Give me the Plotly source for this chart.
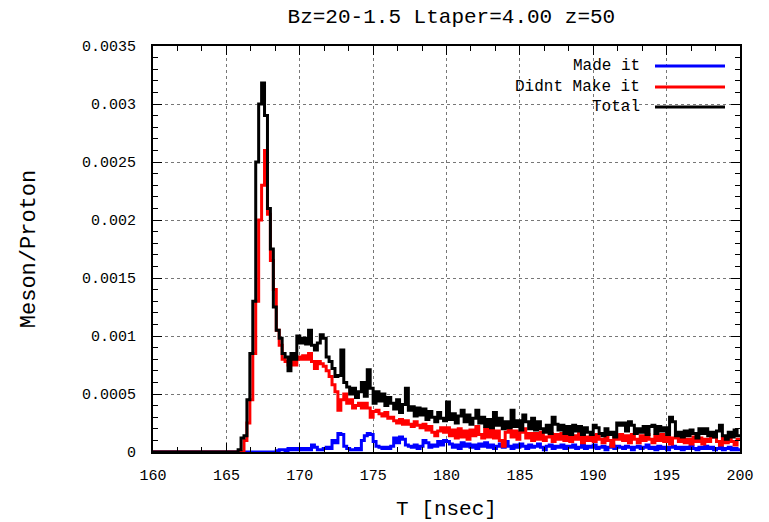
import plotly.graph_objects as go

# ---- data (0.2 ns bins starting at 160 ns) ----
bin_start = 160.0
bin_width = 0.2

made_it = [
    0, 0, 0, 0, 0, 0, 0, 0, 0, 0,
    0, 0, 0, 0, 0, 0, 0, 0, 0, 0,
    0, 0, 0, 0, 0, 0, 0, 0, 0, 0,
    0, 0, 0, 0, 0, 0, 0, 0, 0, 0,
    0, 0, 0.00001, 0.00002, 0.00002, 0.00001, 0.00003, 0.00002, 0.00003, 0.00002,
    0.00003, 0.00002, 0.00003, 0.00002, 0.00006, 0.00004, 0.00002, 0.00002, 0.00003, 0.00004,
    0.00003, 0.0001, 0.00008, 0.00016, 0.00015, 0.00005, 0.00003, 0.00002, 0.00002, 0.00003,
    0.00002, 0.0001, 0.00014, 0.00016, 0.00015, 0.00009, 0.00005, 0.00004, 0.00003, 0.00004,
    0.00003, 0.00005, 0.00012, 0.00008, 0.00013, 0.00011, 0.00006, 0.00005, 0.00004, 0.00006,
    0.00003, 0.00005, 0.0001, 0.00008, 0.00004, 0.00006, 0.00005, 0.00009, 0.00006, 0.0001,
    0.00009, 0.00007, 0.00004, 0.00006, 0.00003, 0.00008, 0.00005, 0.00007, 0.00004, 0.00006,
    0.00003, 0.00007, 0.00005, 0.00008, 0.00004, 0.00006, 0.00003, 0.00005, 0.00007, 0.00004,
    0.00009, 0.00005, 0.00003, 0.00006, 0.00004, 0.00007, 0.00005, 0.00003, 0.00006, 0.00004,
    0.00005, 0.00007, 0.00004, 0.00002, 0.00005, 0.00006, 0.00003, 0.00005, 0.00004, 0.00006,
    0.00003, 0.00005, 0.00004, 0.00006, 0.00003, 0.00004, 0.00006, 0.00003, 0.00005, 0.00004,
    0.00006, 0.00003, 0.00004, 0.00005, 0.00002, 0.00004, 0.00006, 0.00003, 0.00005, 0.00004,
    0.00003, 0.00005, 0.00004, 0.00002, 0.00004, 0.00005, 0.00003, 0.00004, 0.00006, 0.00003,
    0.00004, 0.00002, 0.00005, 0.00003, 0.00004, 0.00002, 0.00004, 0.00005, 0.00003, 0.00004,
    0.00002, 0.00004, 0.00003, 0.00005, 0.00003, 0.00002, 0.00004, 0.00003, 0.00005, 0.00003,
    0.00004, 0.00002, 0.00003, 0.00004, 0.00002, 0.00003, 0.00004, 0.00002, 0.00003, 0.00002,
]

didnt_make_it = [
    0, 0, 0, 0, 0, 0, 0, 0, 0, 0,
    0, 0, 0, 0, 0, 0, 0, 0, 0, 0,
    0, 0, 0, 0, 0, 0, 0, 0, 0, 0,
    0, 0.0001, 0.00025, 0.00045, 0.00085, 0.0013, 0.002, 0.0023, 0.0026, 0.00205,
    0.00165, 0.0014, 0.00105, 0.00092, 0.0008, 0.00078, 0.00075, 0.0008, 0.00075, 0.00082,
    0.0008, 0.00083, 0.0008, 0.00085, 0.00078, 0.00072, 0.00078, 0.00076, 0.00074, 0.0007,
    0.00065, 0.00058, 0.00052, 0.00036, 0.00045, 0.0005, 0.00042, 0.00045, 0.00038, 0.0004,
    0.00042, 0.00038, 0.00042, 0.00038, 0.0003, 0.00035, 0.00036, 0.00033, 0.00031, 0.00034,
    0.00029, 0.0003, 0.00027, 0.00025, 0.00028, 0.00024, 0.00027, 0.00024, 0.00022, 0.00026,
    0.00023, 0.00021, 0.00024, 0.00019, 0.00022, 0.00017, 0.00014, 0.00018, 0.00021, 0.00017,
    0.00021, 0.00014, 0.00019, 0.00012, 0.0002, 0.00013, 0.00018, 0.00011, 0.00019, 0.00014,
    0.00022, 0.00015, 0.00012, 0.0002, 0.00013, 0.00019, 0.00012, 0.00018, 0.0001, 0.00005,
    0.00017, 0.0002, 0.00013, 0.00018, 0.00011, 0.00017, 0.0002, 0.00012, 0.00016, 0.0001,
    0.00016, 0.00011, 0.00017, 0.0001, 0.00013, 0.00016, 0.00009, 0.00015, 0.00011, 0.00016,
    0.0001, 0.00015, 0.00009, 0.00014, 0.00011, 0.00016, 0.00008, 0.00013, 0.0001, 0.00014,
    0.00009, 0.00015, 0.00011, 0.00008, 0.00014, 0.0001, 0.00005, 0.00014, 0.00011, 0.00015,
    0.0001, 0.00014, 0.00008, 0.00015, 0.00011, 0.00008, 0.00014, 0.0001, 0.00015, 0.00011,
    0.00008, 0.00014, 0.0001, 0.00015, 0.00009, 0.00013, 0.00007, 0.00012, 0.00014, 0.00009,
    0.00013, 0.00008, 0.00011, 0.00007, 0.00013, 0.00009, 0.00012, 0.00007, 0.00011, 0.00009,
    0.00013, 0.00014, 0.00009, 0.00006, 0.00012, 0.00008, 0.00013, 0.00009, 0.00006, 0.00011,
]

total = [
    0, 0, 0, 0, 0, 0, 0, 0, 0, 0,
    0, 0, 0, 0, 0, 0, 0, 0, 0, 0,
    0, 0, 0, 0, 0, 0, 0, 0, 0, 0.00002,
    0.00012, 0.00014, 0.00045, 0.00085, 0.0013, 0.0025, 0.003, 0.00318, 0.0029, 0.0021,
    0.00175, 0.00125, 0.00105, 0.00098, 0.00085, 0.00082, 0.0007, 0.00085, 0.0008, 0.001,
    0.00094, 0.00098, 0.00093, 0.00105, 0.00092, 0.00088, 0.00094, 0.00101, 0.00098, 0.00082,
    0.00078, 0.00072, 0.00065, 0.00066, 0.00088, 0.0006, 0.00056, 0.0005, 0.00055, 0.00047,
    0.00052, 0.0006, 0.00048, 0.00071, 0.00055, 0.00042, 0.00052, 0.00044, 0.0005, 0.0004,
    0.00047, 0.00042, 0.00037, 0.00045, 0.00034, 0.00041, 0.00055, 0.00036, 0.00039, 0.00031,
    0.00038, 0.00032, 0.00037, 0.00028, 0.00035, 0.0003, 0.00026, 0.00034, 0.00029, 0.00027,
    0.00043, 0.00028, 0.00033, 0.00025, 0.00031, 0.00036, 0.00026, 0.00032, 0.00024, 0.00029,
    0.00036, 0.00025, 0.0003, 0.00022, 0.00028, 0.00021, 0.00034, 0.00023, 0.00029, 0.0002,
    0.00026, 0.00021, 0.00036, 0.00022, 0.00027, 0.00019, 0.00032, 0.00026, 0.0002, 0.00029,
    0.00019, 0.00026, 0.0002, 0.00017, 0.00023, 0.00016, 0.0003, 0.00024, 0.00019, 0.00023,
    0.00016, 0.00022, 0.00015, 0.00023, 0.00018, 0.00022, 0.00015, 0.00021, 0.00017, 0.00015,
    0.00023, 0.00021, 0.00016, 0.00014, 0.0002, 0.00015, 0.00017, 0.00013, 0.00025, 0.00023,
    0.00025, 0.00018, 0.00026, 0.00023, 0.00016, 0.0002, 0.00017, 0.00022, 0.00015, 0.00022,
    0.00023, 0.00016, 0.00022, 0.00018, 0.00021, 0.00015, 0.0003, 0.00026, 0.00014, 0.00017,
    0.00013, 0.00018, 0.00014, 0.00019, 0.00016, 0.00012, 0.0002, 0.00016, 0.0002, 0.00014,
    0.00017, 0.00013, 0.00018, 0.00023, 0.00014, 0.00011, 0.00017, 0.00013, 0.00019, 0.00014,
]

series_names = ["Made it", "Didnt Make it", "Total"]
series_colors = ["#0000ff", "#ff0000", "#000000"]

y_tick_vals = [0, 0.0005, 0.001, 0.0015, 0.002, 0.0025, 0.003, 0.0035]
y_tick_text = ["0", "0.0005", "0.001", "0.0015", "0.002", "0.0025", "0.003", "0.0035"]
x_tick_vals = [160, 165, 170, 175, 180, 185, 190, 195, 200]

title_text = "Bz=20-1.5 Ltaper=4.00 z=50"
x_title = "T [nsec]"
y_title = "Meson/Proton"

# ---- figure ----
MONO = "Liberation Mono, Courier New, monospace"

def step_xy(vals):
    xs = [bin_start + i * bin_width for i in range(len(vals) + 1)]
    ys = list(vals) + [vals[-1]]
    return xs, ys

fig = go.Figure()
for name, vals, col in zip(series_names, [made_it, didnt_make_it, total], series_colors):
    xs, ys = step_xy(vals)
    fig.add_trace(go.Scatter(x=xs, y=ys, mode="lines", name=name,
                             line=dict(color=col, width=3, shape="hv"),
                             showlegend=False))

W, H = 769, 522
L, R, T, B = 153, 29, 46, 70

fig.update_layout(
    width=W, height=H,
    margin=dict(l=L, r=R, t=T, b=B, autoexpand=False),
    paper_bgcolor="white", plot_bgcolor="white",
    title=dict(text=title_text, x=0.587, xanchor="center", xref="container",
               y=1 - 16 / H, yanchor="middle", yref="container",
               font=dict(family=MONO, size=21, color="black")),
    font=dict(family=MONO, size=15, color="black"),
)

fig.update_xaxes(
    range=[160, 200], tickvals=x_tick_vals, automargin=False,
    ticks="inside", ticklen=9, tickwidth=1, tickcolor="black",
    showline=True, linewidth=2, linecolor="black", mirror="allticks",
    showgrid=True, gridcolor="#777777", griddash="dot", gridwidth=1,
    zeroline=False, ticklabelstandoff=8,
    minor=dict(dtick=5 / 3, tick0=160, ticks="inside", ticklen=5, tickcolor="black", showgrid=False),
    tickfont=dict(family=MONO, size=15),
    title=dict(text=x_title, font=dict(family=MONO, size=21), standoff=16),
)
fig.update_yaxes(
    range=[0, 0.0035], tickvals=y_tick_vals, ticktext=y_tick_text, automargin=False,
    ticks="inside", ticklen=9, tickwidth=1, tickcolor="black",
    showline=True, linewidth=2, linecolor="black", mirror="allticks",
    showgrid=True, gridcolor="#777777", griddash="dot", gridwidth=1,
    zeroline=False, ticklabelstandoff=12,
    minor=dict(dtick=0.0001, tick0=0, ticks="inside", ticklen=5, tickcolor="black", showgrid=False),
    tickfont=dict(family=MONO, size=15),
    title=dict(text=y_title, font=dict(family=MONO, size=22), standoff=40),
)

# manual gnuplot-style legend (text on the left, line sample on the right)
fig.add_shape(type="rect", xref="paper", yref="paper",
              x0=(505 - L) / (W - L - R), x1=(736 - L) / (W - L - R),
              y0=(H - B - 119) / (H - T - B), y1=(H - B - 55) / (H - T - B),
              fillcolor="white", line=dict(width=0), layer="between")
legend_rows_px = [66, 87, 107]
for name, col, ypx in zip(series_names, series_colors, legend_rows_px):
    yp = (H - B - ypx) / (H - T - B)
    fig.add_annotation(text=name, xref="paper", yref="paper",
                       x=(642 - L) / (W - L - R), y=yp, xanchor="right", yanchor="middle",
                       showarrow=False, font=dict(family=MONO, size=16, color="black"))
    fig.add_shape(type="line", xref="paper", yref="paper",
                  x0=(655 - L) / (W - L - R), x1=(725 - L) / (W - L - R), y0=yp, y1=yp,
                  line=dict(color=col, width=3))

fig.write_html("out.html")
